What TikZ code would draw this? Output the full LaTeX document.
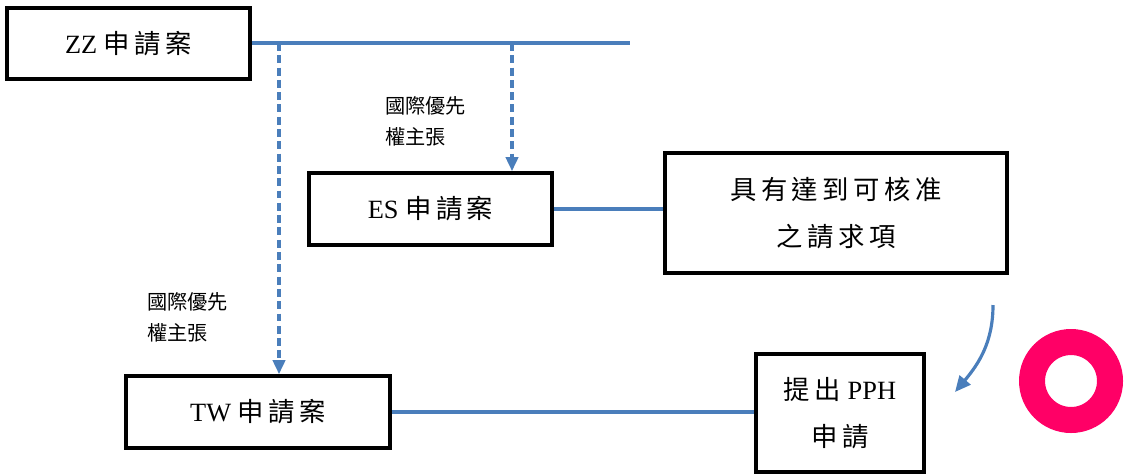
\documentclass[tikz,border=0pt]{standalone}
\usepackage{fontspec}
\setmainfont{Liberation Serif}
\newfontfamily\cjk{Noto Sans CJK TC}
\newfontfamily\cjkw[LetterSpace=17]{Noto Sans CJK TC}
\usetikzlibrary{arrows.meta}
\definecolor{linkblue}{RGB}{74,126,187}
\definecolor{ringpink}{RGB}{255,0,102}
\begin{document}
\begin{tikzpicture}[x=0.02cm, y=-0.02cm,
    box/.style={draw, line width=2.1pt, inner sep=0pt, align=center, font=\fontsize{15}{27}\selectfont},
    link/.style={linkblue, line width=1.8pt},
    prio/.style={link, dash pattern=on 4.5pt off 2.5pt, -{Triangle[length=8pt,width=7pt]}},
    note/.style={align=left, inner sep=0pt, font=\cjk\fontsize{11.5}{18}\selectfont}]
    \useasboundingbox (0,0) rectangle (1124,474);
    \node[box, minimum width=4.86cm, minimum height=1.42cm] (zz) at (128.5,43.5) {ZZ~{\cjkw 申請案}};
    \node[box, minimum width=4.86cm, minimum height=1.44cm] (es) at (430.5,209) {ES~{\cjkw 申請案}};
    \node[box, minimum width=6.84cm, minimum height=2.4cm] (claim) at (836,213) {\cjkw 具有達到可核准\\\cjkw 之請求項};
    \node[box, minimum width=5.28cm, minimum height=1.44cm] (tw) at (258,412) {TW~{\cjkw 申請案}};
    \node[box, minimum width=3.36cm, minimum height=2.36cm] (pph) at (840,413) {{\cjkw 提出}~PPH\\\cjkw 申請};
    \coordinate (tail) at (630,43);
    \coordinate (fork1) at (279,43);
    \coordinate (fork2) at (512,43);
    \draw[link] (zz.east |- tail) -- (tail);
    \draw[prio] (fork2) -- (fork2 |- es.north);
    \draw[prio] (fork1) -- (fork1 |- tw.north);
    \draw[link] (es.east) -- (es.east -| claim.west);
    \draw[link] (tw.east) -- (tw.east -| pph.west);
    \node[note, anchor=north west] (prio1) at (385,96) {國際優先\\權主張};
    \node[note, anchor=north west] (prio2) at (147,292) {國際優先\\權主張};
    \coordinate (bend) at (993,305);
    \coordinate (hook) at (955,392);
    \draw[link, -{Triangle[length=9pt,width=8pt]}] (bend) to[out=-90, in=50] (hook);
    \draw[ringpink, line width=0.52cm] (1071,381) circle[radius=0.78cm];
\end{tikzpicture}
\end{document}
